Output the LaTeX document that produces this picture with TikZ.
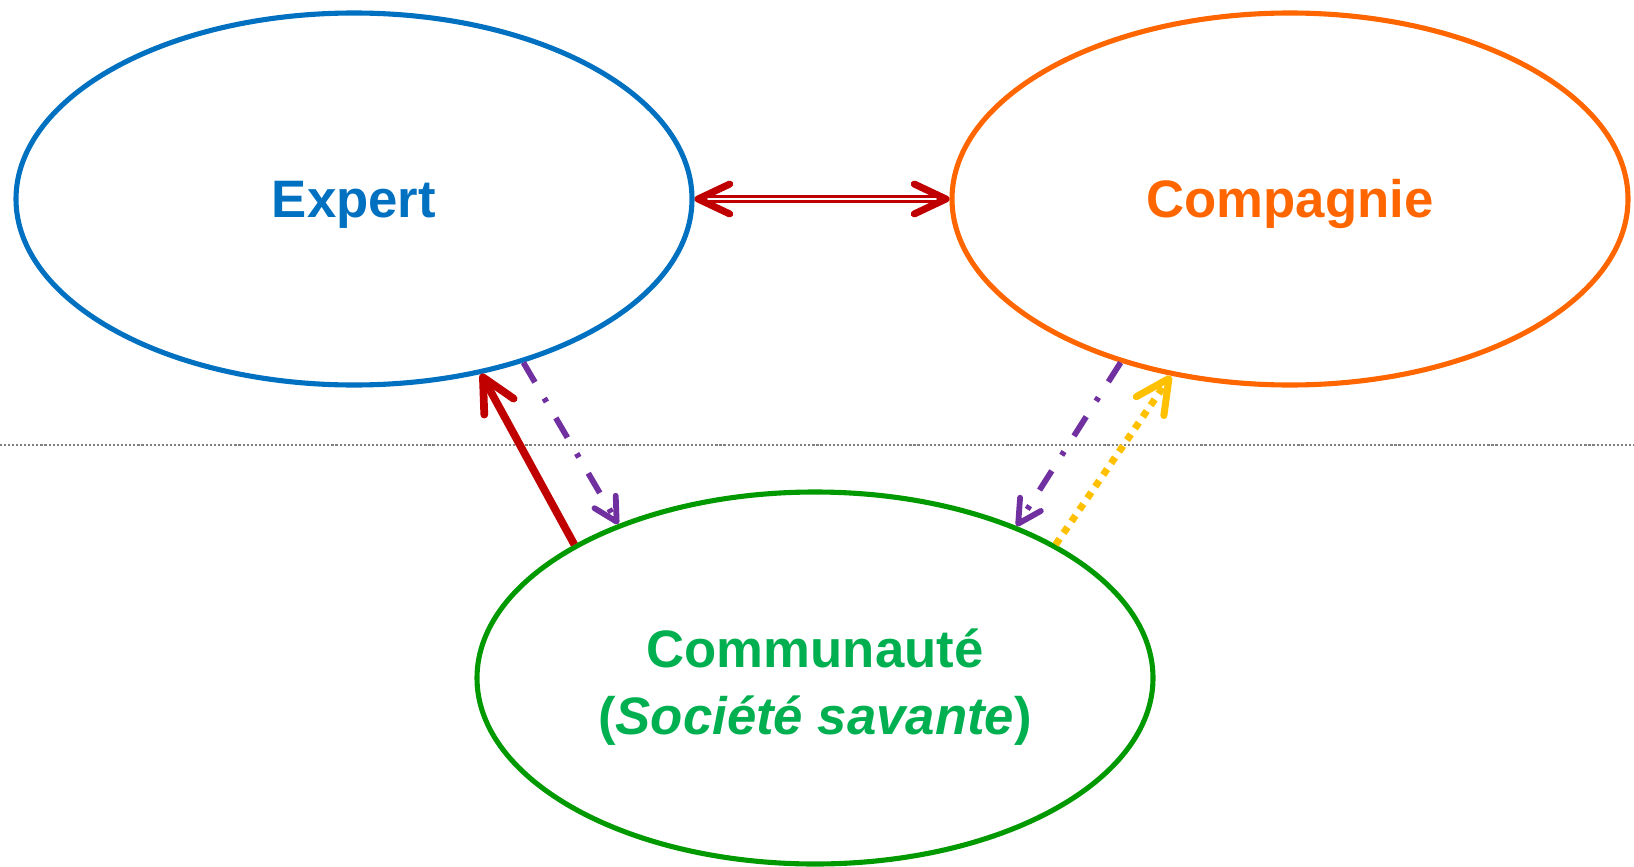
\documentclass[tikz,border=0pt]{standalone}
\usepackage{fontspec}
\setmainfont{Liberation Sans}
\usetikzlibrary{shapes.geometric,arrows.meta,positioning}
\definecolor{ExpertBlue}{HTML}{0070C0}
\definecolor{CompagnieOrange}{HTML}{FF6600}
\definecolor{CommunauteGreen}{HTML}{009900}
\definecolor{CommunauteText}{HTML}{00B050}
\definecolor{LinkRed}{HTML}{C00000}
\definecolor{LinkPurple}{HTML}{7030A0}
\definecolor{LinkYellow}{HTML}{FFC000}

\begin{document}
\begin{tikzpicture}[
	% the three actors
	actor/.style={ellipse, draw, line width=2.9pt, minimum width=13.52cm, minimum height=7.44cm,
		inner sep=0pt, align=center, font=\fontsize{30}{38}\selectfont\bfseries},
	oneline/.style={text height=21.5pt, text depth=0pt},
	% open arrow heads
	redtip/.style={-{Straight Barb[length=19pt, width=19pt, line cap=round, line join=round]}},
	purpletip/.style={-{Straight Barb[length=13pt, width=14pt, line cap=round, line join=round]}},
	dashdot/.style={dash pattern=on 13pt off 10.5pt on 2.5pt off 10.5pt},
	]
	\pgfmathsetmacro{\PageWidth}{32.68}
	\pgfmathsetmacro{\PageHeight}{17.32}
	\pgfmathsetmacro{\SplitHeight}{8.9}
	\useasboundingbox (0,0) rectangle (\PageWidth,-\PageHeight);

	\node[actor, oneline, draw=ExpertBlue, text=ExpertBlue] (Expert) at (7.08,-3.98) {Expert};
	\node[actor, oneline, draw=CompagnieOrange, text=CompagnieOrange] (Compagnie) at (25.8,-3.98) {Compagnie};
	\node[actor, draw=CommunauteGreen, text=CommunauteText, text height=64.5pt, text depth=0pt]
		(Communaute) at (16.3,-13.56) {Communauté\\(\textit{Société savante})};

	% dotted separation line
	\coordinate (SplitLeft) at (0,-\SplitHeight);
	\coordinate (SplitRight) at (\PageWidth,-\SplitHeight);
	\draw[gray, line width=1.1pt, dash pattern=on 1.2pt off 1.1pt] (SplitLeft) -- (SplitRight);

	% links
	\draw[LinkRed, line width=1.5pt, double, double distance=1.1pt,
		{Straight Barb[length=18pt, width=17pt, line width=4pt, line cap=round, line join=round]}-{Straight Barb[length=18pt, width=17pt, line width=4pt, line cap=round, line join=round]}]
		(Expert.east) -- (Compagnie.west);
	\draw[LinkRed, line width=4.4pt, redtip] (Communaute.151) -- (Expert.-54);
	\draw[LinkPurple, line width=3.3pt, dashdot, purpletip] (Expert.-44) -- (Communaute.142.5);
	\draw[LinkPurple, line width=3.3pt, dashdot, purpletip] (Compagnie.224) -- (Communaute.37.7);
	\draw[LinkYellow, line width=4pt, dash pattern=on 4pt off 4pt, redtip]
		(Communaute.29) -- (Compagnie.236);
\end{tikzpicture}
\end{document}
